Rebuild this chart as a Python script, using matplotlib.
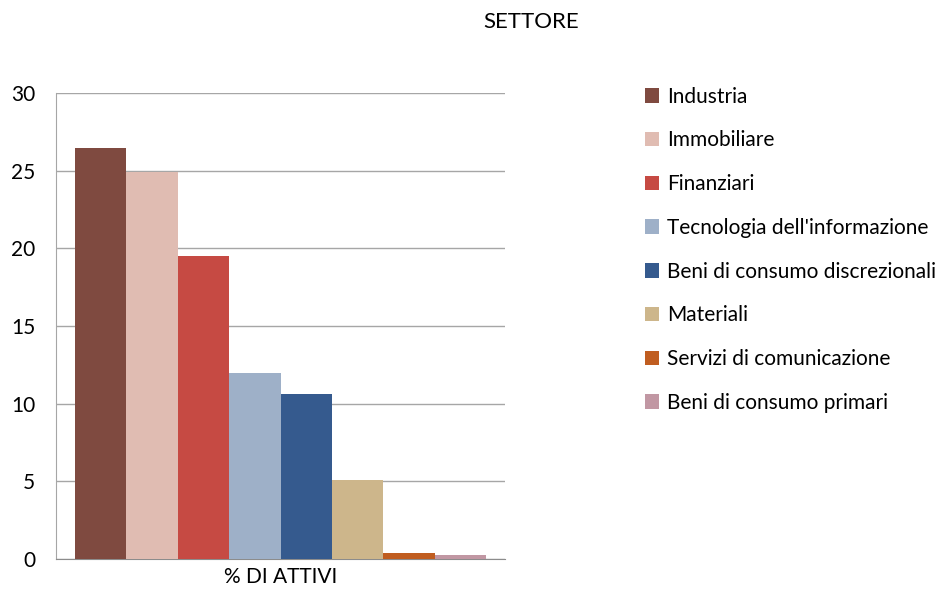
import numpy as np
import matplotlib
matplotlib.use("Agg")
import matplotlib.pyplot as plt

settori = ['Industria', 'Immobiliare', 'Finanziari', "Tecnologia dell'informazione",
           'Beni di consumo discrezionali', 'Materiali', 'Servizi di comunicazione',
           'Beni di consumo primari']
valori = [26.45, 24.9, 19.5, 12.0, 10.6, 5.1, 0.4, 0.27]
colori = ['#7f4a40', '#e0bcb2', '#c64a43', '#9eb0c8', '#355a8e', '#cdb68b',
          '#c05d20', '#c197a3']
categoria = '% DI ATTIVI'

plt.rcParams['font.family'] = ['Lato', 'DejaVu Sans']

fig = plt.figure(figsize=(9.38, 5.96), dpi=100)
ax = fig.add_axes([56 / 938, 37 / 596, 449 / 938, 466 / 596])

n = len(valori)
x = np.arange(n) - (n - 1) / 2
for i, (s, v, c) in enumerate(zip(settori, valori, colori)):
    ax.bar(x[i], v, width=1.0, color=c, label=s, zorder=3)

ax.set_xlim(-(n / 2) - 0.37, (n / 2) + 0.37)
ax.set_ylim(0, 30)
ax.set_yticks(range(0, 31, 5))
ax.yaxis.grid(True, color='#a6a6a6', linewidth=1)
ax.set_axisbelow(True)
ax.set_xticks([0])
ax.set_xticklabels([categoria])
ax.tick_params(axis='both', length=0, labelsize=15, pad=6)
ax.tick_params(axis='y', pad=15)
for side in ['top', 'right']:
    ax.spines[side].set_visible(False)
ax.spines['left'].set_color('#a6a6a6')
ax.spines['bottom'].set_color('#8c8c8c')

fig.text(531 / 938, 1 - 22 / 596, 'SETTORE', ha='center', va='center', fontsize=16)

fig.legend(loc='upper left', bbox_to_anchor=(626 / 938, 1 - 68 / 596), frameon=False,
           fontsize=15, handlelength=0.7, handleheight=0.7, handletextpad=0.35,
           labelspacing=1.14)

fig.savefig('out.png', dpi=100)
